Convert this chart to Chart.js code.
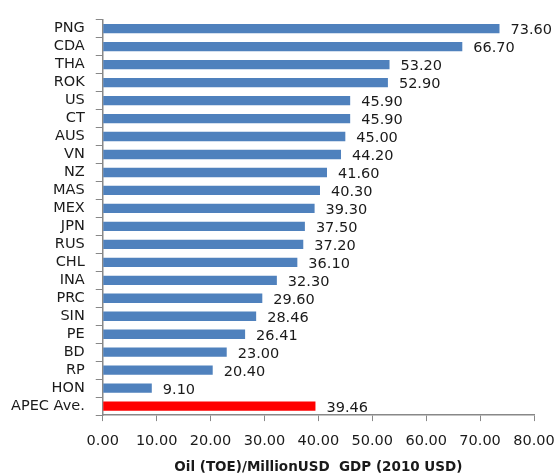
<!DOCTYPE html>
<html>
<head>
<meta charset="utf-8">
<script src="https://cdn.jsdelivr.net/npm/chart.js@4"></script>
<style>
  html, body { margin: 0; padding: 0; background: #fff; }
  #wrap { width: 556px; height: 474px; }
</style>
</head>
<body>
<div id="wrap"><canvas id="chart"></canvas></div>
<script>
const economies = ['PNG', 'CDA', 'THA', 'ROK', 'US', 'CT', 'AUS', 'VN', 'NZ', 'MAS', 'MEX', 'JPN', 'RUS', 'CHL', 'INA', 'PRC', 'SIN', 'PE', 'BD', 'RP', 'HON', 'APEC Ave.']
const oilIntensity = [73.60, 66.70, 53.20, 52.90, 45.90, 45.90, 45.00, 44.20, 41.60, 40.30, 39.30, 37.50, 37.20, 36.10, 32.30, 29.60, 28.46, 26.41, 23.00, 20.40, 9.10, 39.46]
const xTicks = [0, 10, 20, 30, 40, 50, 60, 70, 80]

const blue = '#4F81BD'
const red = '#FF0000'
const font = 'DejaVu Sans'

const valueLabels = {
    id: 'valueLabels',
    afterDatasetsDraw(chart) {
        const ctx = chart.ctx
        const meta = chart.getDatasetMeta(0)
        ctx.save()
        ctx.font = `14.5px "${font}"`
        ctx.fillStyle = '#1a1a1a'
        ctx.textAlign = 'left'
        ctx.textBaseline = 'middle'
        meta.data.forEach((bar, i) => {
            ctx.fillText(oilIntensity[i].toFixed(2), bar.x + 11, bar.y + 2)
        })
        ctx.restore()
    }
}

new Chart(document.getElementById('chart').getContext('2d'), {
    type: 'bar',
    data: {
        labels: economies,
        datasets: [{
            data: oilIntensity,
            backgroundColor: economies.map(e => e === 'APEC Ave.' ? red : blue),
            barPercentage: 0.52,
            categoryPercentage: 1
        }]
    },
    options: {
        indexAxis: 'y',
        responsive: true,
        maintainAspectRatio: false,
        animation: false,
        layout: { padding: { top: 17, right: 0, left: 0, bottom: 0 } },
        plugins: {
            legend: { display: false },
            tooltip: { enabled: false }
        },
        scales: {
            x: {
                min: 0,
                max: 80,
                afterBuildTicks: (axis) => { axis.ticks = xTicks.map(v => ({ value: v })) },
                afterFit: (axis) => { axis.paddingRight = 22 },
                grid: { drawOnChartArea: false, drawTicks: true, tickLength: 6, color: '#888' },
                border: { color: '#888', width: 1.5 },
                ticks: {
                    color: '#1a1a1a',
                    font: { family: font, size: 14.5 },
                    padding: 11,
                    maxRotation: 0,
                    callback: (v) => Number(v).toFixed(2)
                },
                title: {
                    display: true,
                    text: 'Oil (TOE)/MillionUSD  GDP (2010 USD)',
                    color: '#1a1a1a',
                    font: { family: font, size: 13.5, weight: 'bold', lineHeight: 1 },
                    padding: { top: 0, bottom: 0 }
                }
            },
            y: {
                grid: { drawOnChartArea: false, drawTicks: true, tickLength: 7, color: '#888', offset: true },
                border: { color: '#888', width: 1.5 },
                ticks: {
                    color: '#1a1a1a',
                    font: { family: font, size: 14.5 },
                    padding: 11,
                    autoSkip: false
                }
            }
        }
    },
    plugins: [valueLabels]
})
</script>
</body>
</html>
